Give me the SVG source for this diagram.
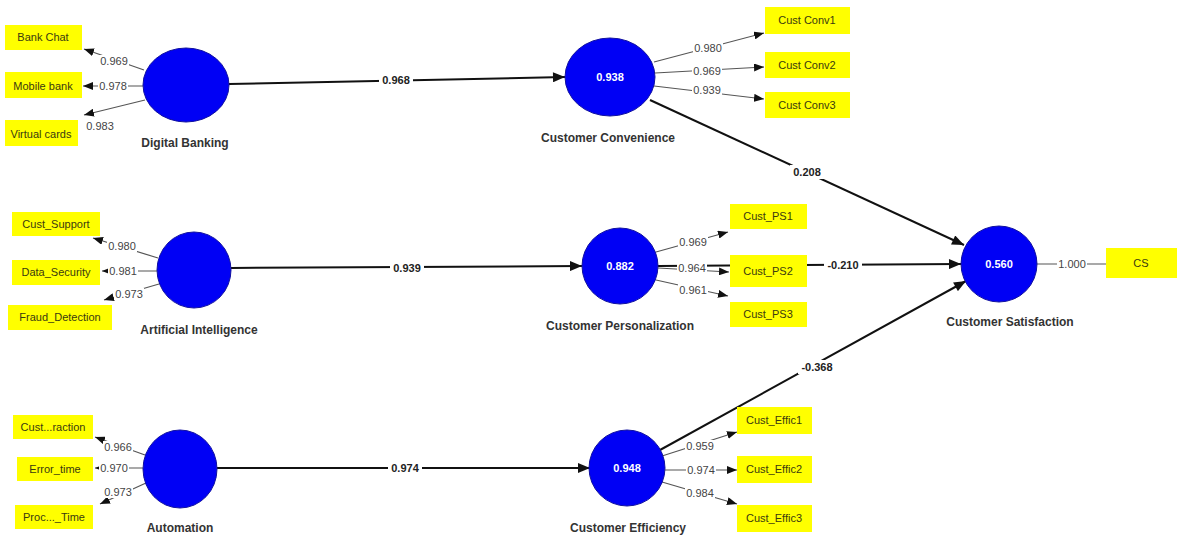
<svg xmlns="http://www.w3.org/2000/svg" width="1177" height="535" viewBox="0 0 1177 535">
<defs>
<style>
.lv{fill:#0000f5;stroke:#1010a0;stroke-width:1}
.ind{fill:#ffff00}
.bg{fill:#fff}
.it{font-family:"Liberation Sans",Arial,sans-serif;font-size:11px;fill:#3a3a10;text-anchor:middle;dominant-baseline:central}
.nl{font-family:"Liberation Sans",Arial,sans-serif;font-size:12px;font-weight:bold;fill:#333;text-anchor:middle;dominant-baseline:central}
.vt{font-family:"Liberation Sans",Arial,sans-serif;font-size:11px;font-weight:bold;fill:#fff;text-anchor:middle;dominant-baseline:central}
.pl{font-family:"Liberation Sans",Arial,sans-serif;font-size:11px;font-weight:bold;fill:#222;text-anchor:middle;dominant-baseline:central}
.ll{font-family:"Liberation Sans",Arial,sans-serif;font-size:11px;fill:#444;text-anchor:middle;dominant-baseline:central}
.sp{stroke:#111;stroke-width:2;fill:none;marker-end:url(#ab)}
.ld{stroke:#555;stroke-width:1.2;fill:none;marker-end:url(#as)}
.ln{stroke:#555;stroke-width:1.2;fill:none}
</style>
<marker id="ab" viewBox="0 0 12 10" refX="12" refY="5" markerWidth="13" markerHeight="10" markerUnits="userSpaceOnUse" orient="auto"><path d="M0,0 L12,5 L0,10 Z" fill="#111"/></marker>
<marker id="as" viewBox="0 0 10 8" refX="10" refY="4" markerWidth="10" markerHeight="8" markerUnits="userSpaceOnUse" orient="auto"><path d="M0,0 L10,4 L0,8 Z" fill="#111"/></marker>
</defs>
<rect width="1177" height="535" fill="#fff"/>

<g id="connectors">
<line class="sp" x1="229" y1="84" x2="565" y2="77"/>
<line class="sp" x1="231" y1="268" x2="582" y2="266"/>
<line class="sp" x1="217" y1="468" x2="590" y2="468"/>
<line class="sp" x1="650" y1="100" x2="964" y2="245"/>
<line class="sp" x1="658" y1="266" x2="961" y2="264"/>
<line class="sp" x1="660" y1="450" x2="966" y2="281"/>
<line class="ld" x1="144" y1="70" x2="84" y2="49"/>
<line class="ld" x1="143" y1="86" x2="83" y2="86"/>
<line class="ld" x1="145" y1="100" x2="84" y2="115"/>
<line class="ld" x1="158" y1="258" x2="93" y2="238"/>
<line class="ld" x1="157" y1="271" x2="102" y2="271"/>
<line class="ld" x1="159" y1="284" x2="104" y2="300"/>
<line class="ld" x1="145" y1="455" x2="95" y2="437"/>
<line class="ld" x1="143" y1="468" x2="95" y2="468"/>
<line class="ld" x1="146" y1="483" x2="100" y2="504"/>
<line class="ld" x1="654" y1="62" x2="764" y2="33"/>
<line class="ld" x1="655" y1="73" x2="764" y2="67"/>
<line class="ld" x1="654" y1="86" x2="764" y2="99"/>
<line class="ld" x1="656" y1="252" x2="728" y2="232"/>
<line class="ld" x1="658" y1="268" x2="729" y2="272"/>
<line class="ld" x1="656" y1="280" x2="728" y2="296"/>
<line class="ld" x1="662" y1="456" x2="737" y2="432"/>
<line class="ld" x1="665" y1="470" x2="737" y2="470"/>
<line class="ld" x1="662" y1="482" x2="737" y2="504"/>
<line class="ln" x1="1037" y1="264" x2="1106" y2="264"/>
<rect class="bg" x="379" y="73" width="34" height="14"/><text class="pl" x="396" y="80">0.968</text>
<rect class="bg" x="390" y="261" width="34" height="14"/><text class="pl" x="407" y="268">0.939</text>
<rect class="bg" x="388" y="461" width="34" height="14"/><text class="pl" x="405" y="468">0.974</text>
<rect class="bg" x="790" y="165" width="34" height="14"/><text class="pl" x="807" y="172">0.208</text>
<rect class="bg" x="824" y="258" width="38" height="14"/><text class="pl" x="843" y="265">-0.210</text>
<rect class="bg" x="798" y="360" width="38" height="14"/><text class="pl" x="817" y="367">-0.368</text>
<rect class="bg" x="99" y="55" width="30" height="12"/><text class="ll" x="114" y="61">0.969</text>
<rect class="bg" x="98" y="80" width="30" height="12"/><text class="ll" x="113" y="86">0.978</text>
<rect class="bg" x="85" y="120" width="30" height="12"/><text class="ll" x="100" y="126">0.983</text>
<rect class="bg" x="107" y="240" width="30" height="12"/><text class="ll" x="122" y="246">0.980</text>
<rect class="bg" x="108" y="265" width="30" height="12"/><text class="ll" x="123" y="271">0.981</text>
<rect class="bg" x="114" y="288" width="30" height="12"/><text class="ll" x="129" y="294">0.973</text>
<rect class="bg" x="103" y="441" width="30" height="12"/><text class="ll" x="118" y="447">0.966</text>
<rect class="bg" x="99" y="462" width="30" height="12"/><text class="ll" x="114" y="468">0.970</text>
<rect class="bg" x="103" y="486" width="30" height="12"/><text class="ll" x="118" y="492">0.973</text>
<rect class="bg" x="693" y="42" width="30" height="12"/><text class="ll" x="708" y="48">0.980</text>
<rect class="bg" x="692" y="65" width="30" height="12"/><text class="ll" x="707" y="71">0.969</text>
<rect class="bg" x="692" y="84" width="30" height="12"/><text class="ll" x="707" y="90">0.939</text>
<rect class="bg" x="678" y="236" width="30" height="12"/><text class="ll" x="693" y="242">0.969</text>
<rect class="bg" x="677" y="262" width="30" height="12"/><text class="ll" x="692" y="268">0.964</text>
<rect class="bg" x="678" y="284" width="30" height="12"/><text class="ll" x="693" y="290">0.961</text>
<rect class="bg" x="685" y="440" width="30" height="12"/><text class="ll" x="700" y="446">0.959</text>
<rect class="bg" x="686" y="464" width="30" height="12"/><text class="ll" x="701" y="470">0.974</text>
<rect class="bg" x="685" y="487" width="30" height="12"/><text class="ll" x="700" y="493">0.984</text>
<rect class="bg" x="1057" y="258" width="30" height="12"/><text class="ll" x="1072" y="264">1.000</text>
</g>

<g id="digital-banking"><ellipse class="lv" cx="186" cy="85" rx="43" ry="37"/><text class="nl" x="185" y="143">Digital Banking</text></g>
<g id="artificial-intelligence"><ellipse class="lv" cx="194" cy="270" rx="37" ry="38"/><text class="nl" x="199" y="330">Artificial Intelligence</text></g>
<g id="automation"><ellipse class="lv" cx="180" cy="469" rx="37" ry="39"/><text class="nl" x="180" y="528">Automation</text></g>
<g id="customer-convenience"><ellipse class="lv" cx="610" cy="77" rx="45" ry="39"/><text class="vt" x="610" y="77">0.938</text><text class="nl" x="608" y="138">Customer Convenience</text></g>
<g id="customer-personalization"><ellipse class="lv" cx="620" cy="266" rx="38" ry="38"/><text class="vt" x="620" y="266">0.882</text><text class="nl" x="620" y="326">Customer Personalization</text></g>
<g id="customer-efficiency"><ellipse class="lv" cx="627" cy="468" rx="38" ry="38"/><text class="vt" x="627" y="468">0.948</text><text class="nl" x="628" y="528">Customer Efficiency</text></g>
<g id="customer-satisfaction"><ellipse class="lv" cx="999" cy="264" rx="38" ry="38"/><text class="vt" x="999" y="264">0.560</text><text class="nl" x="1010" y="322">Customer Satisfaction</text></g>

<g id="bank-chat"><rect class="ind" x="5" y="25" width="77" height="25"/><text class="it" x="43" y="37">Bank Chat</text></g>
<g id="mobile-bank"><rect class="ind" x="5" y="72" width="77" height="26"/><text class="it" x="43" y="86">Mobile bank</text></g>
<g id="virtual-cards"><rect class="ind" x="5" y="120" width="73" height="26"/><text class="it" x="41" y="134">Virtual cards</text></g>
<g id="cust-support"><rect class="ind" x="12" y="212" width="88" height="24"/><text class="it" x="56" y="224">Cust_Support</text></g>
<g id="data-security"><rect class="ind" x="12" y="260" width="88" height="25"/><text class="it" x="56" y="272">Data_Security</text></g>
<g id="fraud-detection"><rect class="ind" x="8" y="305" width="104" height="25"/><text class="it" x="60" y="317">Fraud_Detection</text></g>
<g id="cust-raction"><rect class="ind" x="13" y="415" width="80" height="24"/><text class="it" x="53" y="427">Cust...raction</text></g>
<g id="error-time"><rect class="ind" x="17" y="457" width="76" height="24"/><text class="it" x="55" y="469">Error_time</text></g>
<g id="proc-time"><rect class="ind" x="15" y="505" width="78" height="24"/><text class="it" x="54" y="517">Proc..._Time</text></g>
<g id="cust-conv1"><rect class="ind" x="765" y="7" width="85" height="27"/><text class="it" x="807" y="20">Cust Conv1</text></g>
<g id="cust-conv2"><rect class="ind" x="765" y="52" width="85" height="26"/><text class="it" x="807" y="65">Cust Conv2</text></g>
<g id="cust-conv3"><rect class="ind" x="765" y="92" width="85" height="26"/><text class="it" x="807" y="105">Cust Conv3</text></g>
<g id="cust-ps1"><rect class="ind" x="730" y="204" width="77" height="25"/><text class="it" x="768" y="216">Cust_PS1</text></g>
<g id="cust-ps2"><rect class="ind" x="730" y="255" width="77" height="32"/><text class="it" x="768" y="271">Cust_PS2</text></g>
<g id="cust-ps3"><rect class="ind" x="730" y="302" width="77" height="25"/><text class="it" x="768" y="314">Cust_PS3</text></g>
<g id="cust-effic1"><rect class="ind" x="737" y="407" width="75" height="27"/><text class="it" x="774" y="420">Cust_Effic1</text></g>
<g id="cust-effic2"><rect class="ind" x="737" y="456" width="75" height="27"/><text class="it" x="774" y="469">Cust_Effic2</text></g>
<g id="cust-effic3"><rect class="ind" x="737" y="505" width="75" height="27"/><text class="it" x="774" y="518">Cust_Effic3</text></g>
<g id="cs"><rect class="ind" x="1106" y="248" width="71" height="30"/><text class="it" x="1141" y="263">CS</text></g>
</svg>
